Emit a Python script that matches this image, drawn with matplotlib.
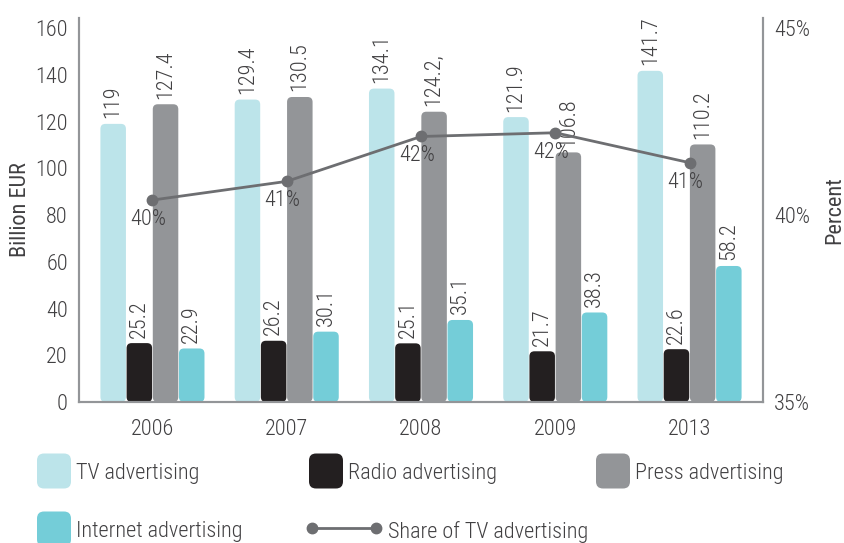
import matplotlib
matplotlib.use("Agg")

import numpy as np
import matplotlib.pyplot as plt
from matplotlib import font_manager as fm
from matplotlib.patches import FancyBboxPatch
from matplotlib.lines import Line2D

# Pick a condensed face if one is installed
narrow = [f for f in fm.fontManager.ttflist
          if ("Narrow" in f.fname or "Condensed" in f.fname or "Narrow" in f.name)
          and f.style == "normal" and f.weight in (400, "normal", "regular")]
order = ["Liberation Sans Narrow", "Roboto Condensed", "Open Sans Condensed", "DejaVu Sans"]
narrow.sort(key=lambda f: order.index(f.name) if f.name in order else 99)
if narrow:
    face = narrow[0]
    plt.rcParams["font.family"] = [face.name, "DejaVu Sans"]
    plt.rcParams["font.stretch"] = face.stretch
    # a light cut of the same family, when there is one
    if any(f.name == face.name and f.weight == 300 and f.style == "normal"
           for f in fm.fontManager.ttflist):
        plt.rcParams["font.weight"] = 300
    fs = 16
else:
    plt.rcParams["font.family"] = ["Roboto", "DejaVu Sans"]
    fs = 14

# Data
years = ["2006", "2007", "2008", "2009", "2013"]
tv = [119, 129.4, 134.1, 121.9, 141.7]
radio = [25.2, 26.2, 25.1, 21.7, 22.6]
press = [127.4, 130.5, 124.2, 106.8, 110.2]
internet = [22.9, 30.1, 35.1, 38.3, 58.2]
tv_share = [40.4, 40.9, 42.1, 42.2, 41.4]

series_names = ["TV advertising", "Radio advertising", "Press advertising", "Internet advertising"]
colors = ["#BCE4EA", "#231F20", "#939598", "#74CDD8"]
line_color = "#6D6E71"
text_color = "#414042"
axis_color = "#939598"

W, H = 845, 543
fig = plt.figure(figsize=(W / 100, H / 100), dpi=100)
ax = fig.add_axes([79 / W, 141 / H, 684 / W, 384 / H])
ax2 = ax.twinx()

x = np.arange(len(years))
width = 0.19
step = 0.195
ymax = 164.3
ax.set_xlim(-0.547, len(years) - 1 + 0.547)
ax.set_ylim(0, ymax)
ax2.set_ylim(35, 35 + ymax / 16)

# pixel scale -> aspect for rounded bar corners
px_x = (ax.get_xlim()[1] - ax.get_xlim()[0]) / 684
px_y = ymax / 384
aspect = px_y / px_x

for i, (vals, col) in enumerate(zip([tv, radio, press, internet], colors)):
    for j, v in enumerate(vals):
        left = x[j] + (i - 1.5) * step - width / 2
        bar = FancyBboxPatch((left, 0), width, v,
                             boxstyle="round,pad=0,rounding_size=%f" % (5 * px_x),
                             mutation_aspect=aspect, facecolor=col,
                             edgecolor="none", zorder=2)
        ax.add_patch(bar)
        label = f"{v:g}"
        if vals is press and j == 2:
            label += ","
        ax.annotate(label, (x[j] + (i - 1.5) * step, v), xytext=(0, 4),
                    textcoords="offset points", rotation=90, ha="center",
                    va="bottom", fontsize=fs, color=text_color, zorder=3)

# TV share line on the right axis
ax2.plot(x, tv_share, color=line_color, lw=2, marker="o", ms=7.5, zorder=4)
for xi, s in zip(x, tv_share):
    ax2.annotate(f"{round(s)}%", (xi, s), xytext=(-3, -14),
                 textcoords="offset points", ha="center", va="center",
                 fontsize=fs, color=text_color)

# Axes styling
ax.set_xticks(x)
ax.set_xticklabels(years)
ax.set_yticks(np.arange(0, 161, 20))
ax2.set_yticks([35, 40, 45])
ax2.set_yticklabels(["35%", "40%", "45%"])
for a in (ax, ax2):
    a.spines["top"].set_visible(False)
    for side in ("left", "right", "bottom"):
        a.spines[side].set_color(axis_color)
        a.spines[side].set_linewidth(1.5)
    a.tick_params(length=0, labelsize=fs, colors=text_color)
ax.tick_params(axis="y", pad=8)
ax.tick_params(axis="x", pad=12)
ax2.tick_params(axis="y", pad=8)
ax.set_ylabel("Billion EUR", fontsize=fs, color=text_color, labelpad=3)
ax2.set_ylabel("Percent", fontsize=fs, color=text_color, labelpad=10)
ax.set_zorder(2)
ax2.set_zorder(3)
ax.patch.set_visible(False)

# Legend drawn in figure pixels
def fx(px):
    return px / W

def fy(py):
    return 1 - py / H

legend_pos = [(37, 471), (309, 471), (596, 471), (37, 529)]
for name, col, (lx, ly) in zip(series_names, colors, legend_pos):
    patch = FancyBboxPatch((fx(lx), fy(ly + 17.5)), fx(34), 35 / H,
                           boxstyle="round,pad=0,rounding_size=%f" % fx(7),
                           mutation_aspect=W / H, facecolor=col,
                           edgecolor="none", transform=fig.transFigure)
    fig.add_artist(patch)
    fig.text(fx(lx + 39), fy(ly + 2), name, fontsize=fs, color=text_color,
             ha="left", va="center")

fig.add_artist(Line2D([fx(312), fx(376)], [fy(528), fy(528)], color=line_color,
                      lw=2, marker="o", ms=7.5, transform=fig.transFigure))
fig.text(fx(388), fy(532), "Share of TV advertising", fontsize=fs,
         color=text_color, ha="left", va="center")

fig.savefig("out.png", dpi=100)
